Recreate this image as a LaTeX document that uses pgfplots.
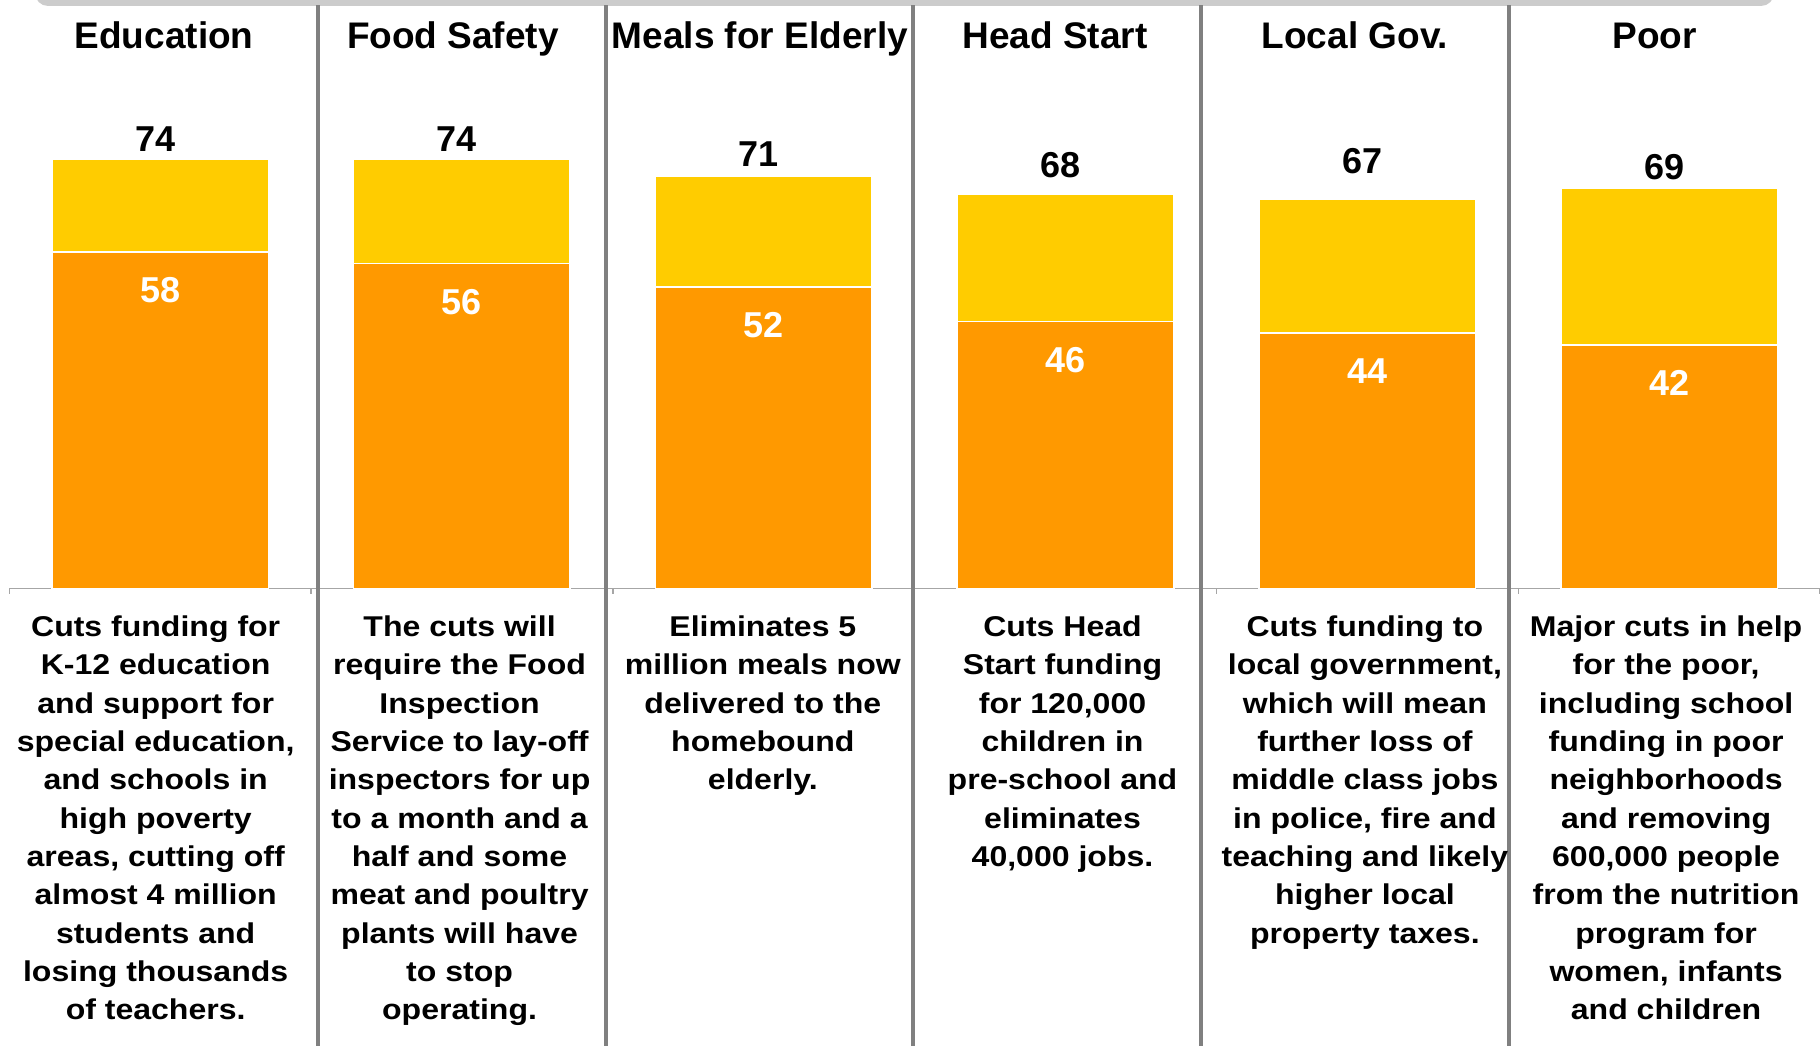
\documentclass[border=0pt]{standalone}
\usepackage{pgfplots}
\pgfplotsset{compat=1.18}
\usepackage{fontspec}
\setmainfont{Liberation Sans}
\newfontfamily\descfont[FakeStretch=1.12]{Liberation Sans}

\definecolor{barYellow}{HTML}{FFCC00}
\definecolor{barOrange}{HTML}{FF9900}
\definecolor{divGray}{HTML}{808080}
\definecolor{axisGray}{HTML}{A6A6A6}
\definecolor{topGray}{HTML}{CCCCCC}

\tikzset{
  title/.style={anchor=base, font=\fontsize{18.5}{20}\selectfont\bfseries},
  desc/.style={anchor=north, align=center, inner sep=0pt,
    font=\descfont\bfseries\fontsize{14.3}{19.15}\selectfont},
  divider/.style={divGray, line width=1.8pt},
}

\begin{document}
\begin{tikzpicture}
\useasboundingbox (0,0) rectangle (910pt,522.5pt);
% grey strip along the top edge
\fill[topGray, rounded corners=6.5pt] (17.5pt,519.5pt) rectangle (887pt,545pt);

\begin{axis}[
  at={(4.65pt,228.25pt)}, anchor=south west,
  scale only axis, width=905.35pt, height=294.25pt,
  xmin=-0.5, xmax=5.5, ymin=0, ymax=101.4,
  axis x line=bottom, axis y line=none,
  axis line style={-},
  x axis line style={-, draw=axisGray, line width=0.9pt},
  xtick={-0.5,0.5,...,5.5}, xticklabel=\empty,
  tick align=outside, major tick length=2.5pt,
  x tick style={draw=axisGray, line width=0.7pt},
  ytick=\empty,
  clip=false,
]
% totals
\addplot[ybar, bar width=108.3pt, fill=barYellow, draw=white, line width=0.8pt]
  coordinates {(0,74) (1,74) (2,71) (3,68) (4,67) (5,69)};
% lower segment
\addplot[ybar, bar width=108.3pt, fill=barOrange, draw=white, line width=0.8pt,
  point meta=explicit symbolic, nodes near coords,
  every node near coord/.append style={anchor=north, yshift=-12.5pt, inner sep=0pt,
    text=white, font=\fontsize{18}{18}\selectfont\bfseries}]
  coordinates {(0,58)[58] (1,56)[56] (2,52)[52] (3,46)[46] (4,44)[44] (5,42)[42]};
% total labels
\addplot[draw=none, point meta=explicit symbolic, nodes near coords,
  every node near coord/.append style={anchor=base, xshift=-2.5pt, inner sep=0pt,
    text=black, font=\fontsize{18}{18}\selectfont\bfseries}]
  coordinates {(0,75.3)[74] (1,75.3)[74] (2,72.7)[71] (3,70.8)[68] (4,71.5)[67] (5,70.4)[69]};

\draw[divider] (axis cs:0.523,100.5) -- (axis cs:0.523,-80);
\draw[divider] (axis cs:1.477,100.5) -- (axis cs:1.477,-80);
\draw[divider] (axis cs:2.495,100.5) -- (axis cs:2.495,-80);
\draw[divider] (axis cs:3.449,100.5) -- (axis cs:3.449,-80);
\draw[divider] (axis cs:4.469,100.5) -- (axis cs:4.469,-80);

\node[title] at (axis cs:0.013,93.1) {Education};
\node[title] at (axis cs:0.970,93.1) {Food Safety};
\node[title] at (axis cs:1.987,93.1) {Meals for Elderly};
\node[title] at (axis cs:2.965,93.1) {Head Start};
\node[title] at (axis cs:3.959,93.1) {Local Gov.};
\node[title] at (axis cs:4.952,93.1) {Poor};

\node[desc] at (axis cs:-0.015,-4.66) {Cuts funding for\\K-12 education\\and support for\\special education,\\and schools in\\high poverty\\areas, cutting off\\almost 4 million\\students and\\losing thousands\\of teachers.};
\node[desc] at (axis cs:0.992,-4.66) {The cuts will\\require the Food\\Inspection\\Service to lay-off\\inspectors for up\\to a month and a\\half and some\\meat and poultry\\plants will have\\to stop\\operating.};
\node[desc] at (axis cs:1.997,-4.66) {Eliminates 5\\million meals now\\delivered to the\\homebound\\elderly.};
\node[desc] at (axis cs:2.990,-4.66) {Cuts Head\\Start funding\\for 120,000\\children in\\pre-school and\\eliminates\\40,000 jobs.};
\node[desc] at (axis cs:3.992,-4.66) {Cuts funding to\\local government,\\which will mean\\further loss of\\middle class jobs\\in police, fire and\\teaching and likely\\higher local\\property taxes.};
\node[desc] at (axis cs:4.990,-4.66) {Major cuts in help\\for the poor,\\including school\\funding in poor\\neighborhoods\\and removing\\600,000 people\\from the nutrition\\program for\\women, infants\\and children};
\end{axis}
\end{tikzpicture}
\end{document}
